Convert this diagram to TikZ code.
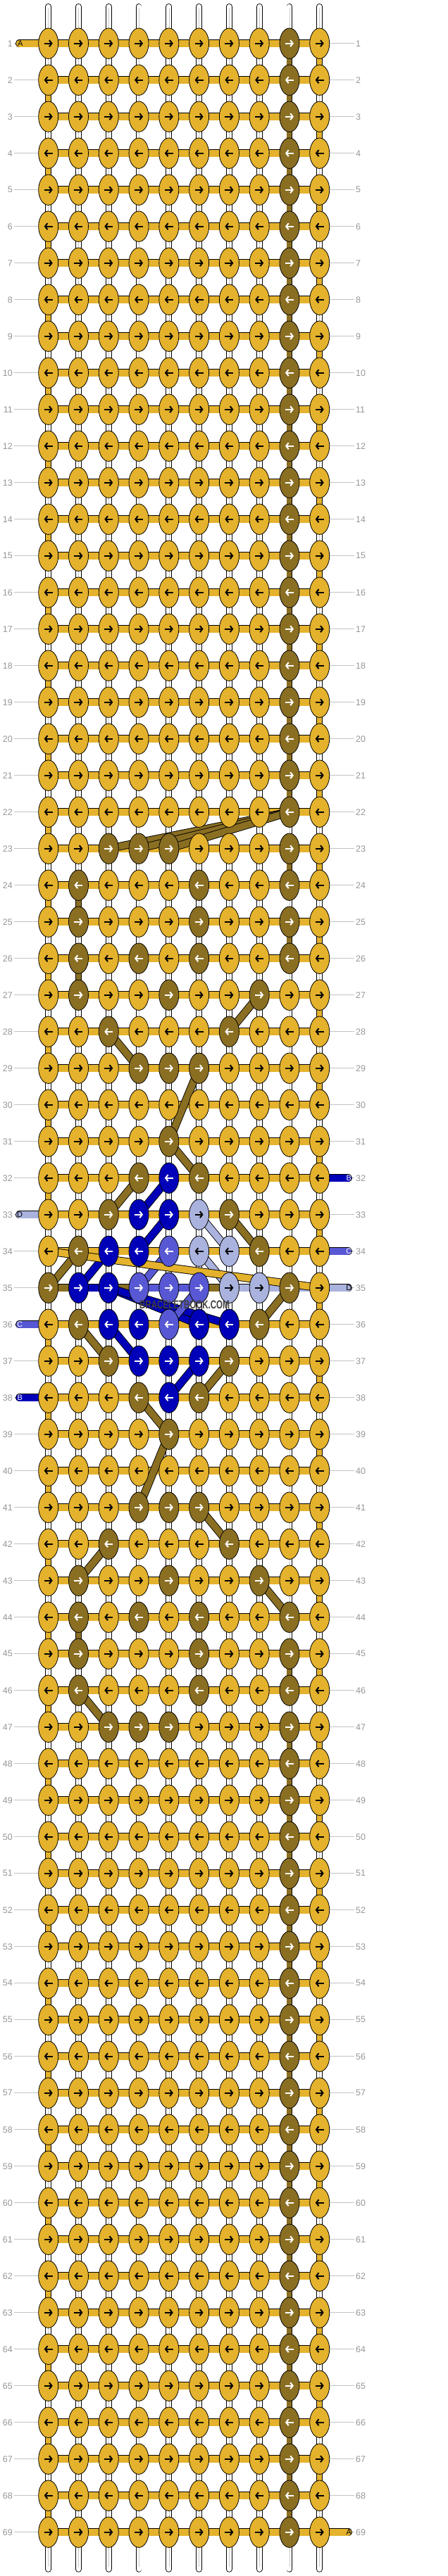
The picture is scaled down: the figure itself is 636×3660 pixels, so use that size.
\documentclass[tikz,border=0pt]{standalone}
\usepackage{fontspec}
\setmainfont{Liberation Sans}
\usetikzlibrary{shapes.geometric,arrows.meta}

\definecolor{cY}{RGB}{228,178,44}
\definecolor{cN}{RGB}{138,110,34}
\definecolor{cB}{RGB}{0,0,185}
\definecolor{cM}{RGB}{88,88,212}
\definecolor{cL}{RGB}{170,178,222}
\colorlet{aY}{black}
\colorlet{aN}{white}
\colorlet{aB}{white}
\colorlet{aM}{white}
\colorlet{aL}{black}
\definecolor{numgray}{RGB}{150,150,150}
\definecolor{rulegray}{RGB}{195,195,195}
\definecolor{wmgray}{RGB}{64,64,64}

\pgfdeclarelayer{strands}
\pgfsetlayers{strands,main}

\tikzset{
  knot/.style={ellipse, draw=black, line width=0.8pt, fill=c#1,
    minimum width=28pt, minimum height=43.4pt, inner sep=0pt},
  bar/.style={draw=black, line width=0.9pt, double=#1, double distance=9.6pt},
  link/.style={draw=black, line width=0.9pt, double=#1, double distance=7pt},
  warp/.style={link=white, line cap=round},
  warpcore/.style={draw=black!22, line width=0.5pt, shorten <=3pt, shorten >=3pt},
  pill/.style={bar=#1, line cap=round},
  knotarrow/.style={line width=2pt, -{Straight Barb[length=3.5pt,width=9pt]}},
  rownum/.style={text=numgray, inner sep=2pt, font=\fontsize{12.5}{12.5}\selectfont},
  rowrule/.style={draw=rulegray, line width=0.8pt},
  pilltext/.style={inner sep=0pt, font=\fontsize{11}{11}\selectfont}
}

% knot colours, one list per row
\newcommand\setrow[2]{\expandafter\gdef\csname rw#1\endcsname{#2}}
\foreach \r in {1,...,69}{\expandafter\xdef\csname rw\r\endcsname{Y,Y,Y,Y,Y,Y,Y,Y,N,Y}}
\setrow{23}{Y,Y,N,N,N,Y,Y,Y,N,Y}
\setrow{24}{Y,N,Y,Y,Y,N,Y,Y,N,Y}
\setrow{25}{Y,N,Y,Y,Y,N,Y,Y,N,Y}
\setrow{26}{Y,N,Y,N,Y,N,Y,Y,N,Y}
\setrow{27}{Y,N,Y,Y,N,Y,Y,N,Y,Y}
\setrow{28}{Y,Y,N,Y,Y,Y,N,Y,Y,Y}
\setrow{29}{Y,Y,Y,N,N,N,Y,Y,Y,Y}
\setrow{30}{Y,Y,Y,Y,Y,Y,Y,Y,Y,Y}
\setrow{31}{Y,Y,Y,Y,N,Y,Y,Y,Y,Y}
\setrow{32}{Y,Y,Y,N,B,N,Y,Y,Y,Y}
\setrow{33}{Y,Y,N,B,B,L,N,Y,Y,Y}
\setrow{34}{Y,N,B,B,M,L,L,N,Y,Y}
\setrow{35}{N,B,B,M,M,M,L,L,N,Y}
\setrow{36}{Y,N,B,B,M,B,B,N,Y,Y}
\setrow{37}{Y,Y,N,B,B,B,N,Y,Y,Y}
\setrow{38}{Y,Y,Y,N,B,N,Y,Y,Y,Y}
\setrow{39}{Y,Y,Y,Y,N,Y,Y,Y,Y,Y}
\setrow{40}{Y,Y,Y,Y,Y,Y,Y,Y,Y,Y}
\setrow{41}{Y,Y,Y,N,N,N,Y,Y,Y,Y}
\setrow{42}{Y,Y,N,Y,Y,Y,N,Y,Y,Y}
\setrow{43}{Y,N,Y,Y,N,Y,Y,N,Y,Y}
\setrow{44}{Y,N,Y,N,Y,N,Y,Y,N,Y}
\setrow{45}{Y,N,Y,Y,Y,N,Y,Y,N,Y}
\setrow{46}{Y,N,Y,Y,Y,N,Y,Y,N,Y}
\setrow{47}{Y,Y,N,N,N,Y,Y,Y,N,Y}

\begin{document}
\begin{tikzpicture}[x=1pt, y=-1pt]
\useasboundingbox (0,0) rectangle (636,3660);

% knots and row numbers
\foreach \r in {1,...,69}{
  \pgfmathsetmacro\yy{9.7+52*\r}
  \edef\rowlist{\csname rw\r\endcsname}
  \foreach \cl [count=\c] in \rowlist{
    \pgfmathsetmacro\xx{25.92+42.78*\c}
    \node[knot=\cl] (k\r-\c) at (\xx,\yy) {};
    \ifodd\r\relax
      \draw[knotarrow, a\cl] ([xshift=-6pt]k\r-\c.center) -- ([xshift=6pt]k\r-\c.center);
    \else
      \draw[knotarrow, a\cl] ([xshift=6pt]k\r-\c.center) -- ([xshift=-6pt]k\r-\c.center);
    \fi
  }
  \node[rownum, anchor=east] (nl\r) at (20,\yy) {\r};
  \node[rownum, anchor=west] (nr\r) at (503,\yy) {\r};
}

\begin{pgfonlayer}{strands}
  % white warp strings
  \foreach \c in {1,...,10}{
    \coordinate (wt\c) at ([yshift=52.3pt]k1-\c.center);
    \coordinate (wb\c) at ([yshift=-52.6pt]k69-\c.center);
    \draw[warp] (wt\c) -- (wb\c);
    \draw[warpcore] (wt\c) -- (wb\c);
  }
  % row rules
  \foreach \r in {1,...,69}{
    \draw[rowrule] (nl\r.east) -- (k\r-1.west);
    \draw[rowrule] (k\r-10.east) -- (nr\r.west);
  }
  % working thread along the rows
  \foreach \r in {1,...,34} \draw[bar=cY] (k\r-1.center) -- (k\r-10.center);
  \foreach \r in {36,...,69} \draw[bar=cY] (k\r-1.center) -- (k\r-10.center);
  \draw[bar=cN] (k35-1.center) -- (k35-2.center);
  \draw[bar=cB] (k35-2.center) -- (k35-3.center);
  \draw[bar=cN] (k35-3.center) -- (k35-4.center);
  \draw[bar=cM] (k35-4.center) -- (k35-6.center);
  \draw[bar=cN] (k35-6.center) -- (k35-7.center);
  \draw[bar=cL] (k35-7.center) -- (k35-10.center);
  % turns at the edges
  \foreach \r [evaluate=\r as \s using int(\r+1)] in {1,3,...,67}
    \draw[link=cY] (k\r-10.center) -- (k\s-10.center);
  \foreach \r [evaluate=\r as \s using int(\r+1)] in {2,4,...,32}
    \draw[link=cY] (k\r-1.center) -- (k\s-1.center);
  \foreach \r [evaluate=\r as \s using int(\r+1)] in {36,38,...,68}
    \draw[link=cY] (k\r-1.center) -- (k\s-1.center);
  % brown thread down the columns
  \foreach \r [evaluate=\r as \s using int(\r+1)] in {1,...,21}
    \draw[link=cN] (k\r-9.center) -- (k\s-9.center);
  \foreach \r [evaluate=\r as \s using int(\r+1)] in {47,...,68}
    \draw[link=cN] (k\r-9.center) -- (k\s-9.center);
  \foreach \r/\c [evaluate=\r as \s using int(\r+1)] in {23/9,25/9,45/9,24/2,26/2,44/2}
    \draw[link=cN] (k\r-\c.center) -- (k\s-\c.center);
  % carried threads
  \foreach \a/\b in {22-9/23-3,22-9/23-4,22-9/23-5,27-8/28-7,28-3/29-4,29-6/31-5,
      31-5/32-6,32-4/33-3,33-7/34-8,34-2/35-1,35-9/36-8,36-2/37-3,37-7/38-6,
      38-4/39-5,39-5/41-4,41-6/42-7,42-3/43-2,43-8/44-9,46-2/47-3}
    \draw[bar=cN] (k\a.center) -- (k\b.center);
  \foreach \a/\b in {32-5/33-4,33-5/34-4,34-3/35-2,35-3/36-6,35-3/36-7,36-3/37-4,37-6/38-5}
    \draw[bar=cB] (k\a.center) -- (k\b.center);
  \foreach \a/\b in {34-5/35-4,35-6/36-5}
    \draw[bar=cM] (k\a.center) -- (k\b.center);
  \foreach \a/\b in {33-6/34-7,34-6/35-7}
    \draw[bar=cL] (k\a.center) -- (k\b.center);
  \draw[bar=cY] (k34-1.center) -- (k35-10.center);
  % thread ends
  \coordinate (pl1) at ([xshift=-41pt]k1-1.center);
  \coordinate (pl33) at ([xshift=-41pt]k33-1.center);
  \coordinate (pl36) at ([xshift=-41pt]k36-1.center);
  \coordinate (pl38) at ([xshift=-41pt]k38-1.center);
  \coordinate (pr32) at ([xshift=40.5pt]k32-10.center);
  \coordinate (pr34) at ([xshift=40.5pt]k34-10.center);
  \coordinate (pr35) at ([xshift=40.5pt]k35-10.center);
  \coordinate (pr69) at ([xshift=40.5pt]k69-10.center);
  \draw[pill=cY] (pl1) -- (k1-1.center);
  \draw[pill=cL] (pl33) -- (k33-1.center);
  \draw[pill=cM] (pl36) -- (k36-1.center);
  \draw[pill=cB] (pl38) -- (k38-1.center);
  \draw[pill=cB] (pr32) -- (k32-10.center);
  \draw[pill=cM] (pr34) -- (k34-10.center);
  \draw[pill=cL] (pr35) -- (k35-10.center);
  \draw[pill=cY] (pr69) -- (k69-10.center);
\end{pgfonlayer}

\node[pilltext] (tA1) at ([xshift=1pt]pl1) {A};
\node[pilltext] (tD33) at ([xshift=0.5pt]pl33) {D};
\node[pilltext, text=white] (tC36) at ([xshift=0.5pt]pl36) {C};
\node[pilltext, text=white] (tB38) at ([xshift=0.5pt]pl38) {B};
\node[pilltext, text=white] (tB32) at ([xshift=1pt]pr32) {B};
\node[pilltext, text=white] (tC34) at ([xshift=1pt]pr34) {C};
\node[pilltext] (tD35) at ([xshift=1pt]pr35) {D};
\node[pilltext] (tA69) at ([xshift=1pt]pr69) {A};

\node[inner sep=0pt, text=wmgray, font=\bfseries\fontsize{16.5}{16.5}\selectfont]
  (wmark) at (262,1854) {\scalebox{0.7}[1]{BRACELETBOOK.COM}};
\end{tikzpicture}
\end{document}
